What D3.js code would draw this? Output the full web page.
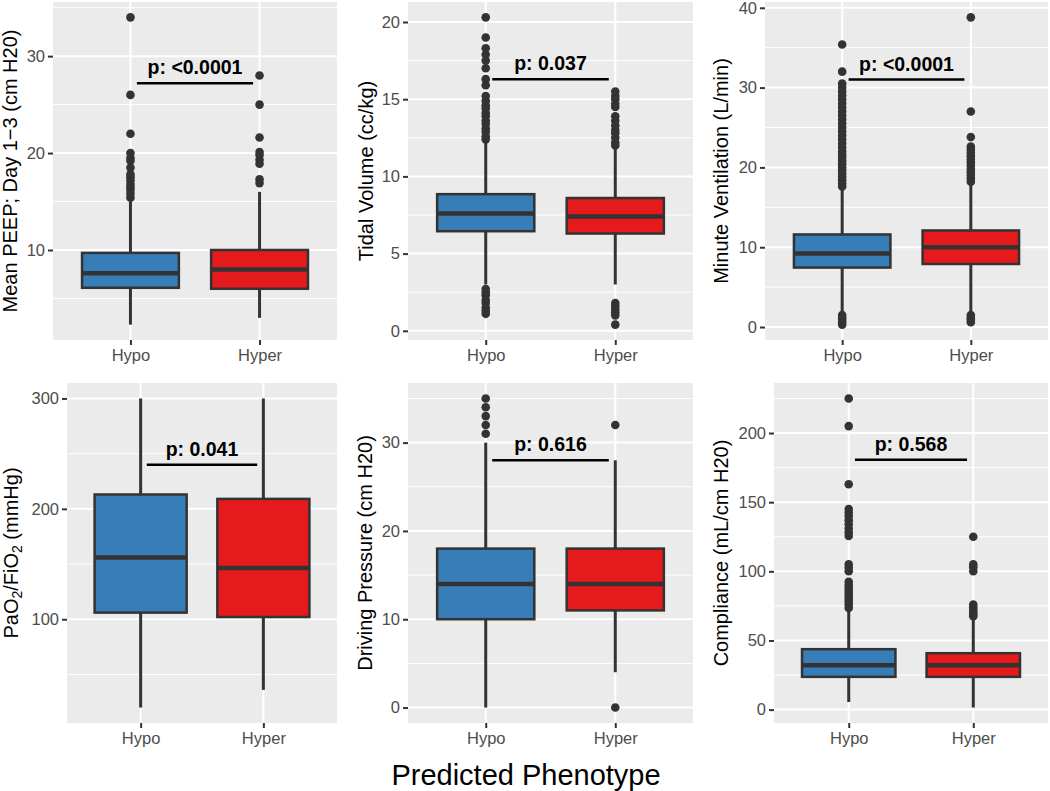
<!DOCTYPE html>
<html>
<head>
<meta charset="utf-8">
<script src="https://cdn.jsdelivr.net/npm/d3@7"></script>
<style>
  body { margin: 0; background: #fff; }
  svg { display: block; font-family: "Liberation Sans", Arial, sans-serif; }
</style>
</head>
<body>
<div id="chart"></div>
<script>
// Groups on the x axis
var groups = ["Hypo", "Hyper"];

// Panel titles (y axis)
var yTitles = [
  "Mean PEEP; Day 1\u22123 (cm H20)",
  "Tidal Volume (cc/kg)",
  "Minute Ventilation (L/min)",
  "PaO2/FiO2 (mmHg)",
  "Driving Pressure (cm H20)",
  "Compliance (mL/cm H20)"
];

// Tick values per panel
var yTicks = [
  [10, 20, 30],
  [0, 5, 10, 15, 20],
  [0, 10, 20, 30, 40],
  [100, 200, 300],
  [0, 10, 20, 30],
  [0, 50, 100, 150, 200]
];

// Box stats: [lower whisker, Q1, median, Q3, upper whisker]
var hypoStats = [
  [2.3, 6.1, 7.6, 9.7, 15.0],
  [3.0, 6.45, 7.6, 8.85, 12.3],
  [1.8, 7.45, 9.2, 11.6, 17.4],
  [20, 106, 156, 213, 300],
  [0, 10, 14, 18, 30],
  [5.5, 23.7, 32, 43.7, 72]
];
var hyperStats = [
  [3.0, 6.0, 8.0, 10.0, 16.0],
  [3.0, 6.3, 7.4, 8.6, 11.9],
  [1.9, 7.9, 10.0, 12.1, 18.0],
  [36, 102, 146.5, 209, 300],
  [4, 11, 14, 18, 28],
  [1.5, 23.7, 32, 40.8, 66]
];

// Outliers
var hypoOutliers = [
  [15.4, 15.8, 16.2, 16.5, 16.8, 17.2, 17.5, 17.8, 18.5, 19.2, 19.5, 20, 22, 26, 34],
  [1.1, 1.3, 1.5, 1.8, 2.0, 2.3, 2.5, 2.7, 12.4, 12.6, 12.9, 13.1, 13.4, 13.6, 13.9, 14.1,
   14.4, 14.6, 14.9, 15.2, 15.9, 16.3, 17.0, 17.5, 17.9, 18.3, 19.0, 20.3],
  [0.3, 0.6, 0.9, 1.2, 1.5, 17.6, 18.0, 18.4, 18.8, 19.2, 19.6, 20.0, 20.4, 20.8, 21.2, 21.6,
   22.0, 22.5, 23.0, 23.5, 24.0, 24.5, 25.0, 25.5, 26.0, 26.5, 27.0, 27.5, 28.0, 28.5, 29.0,
   29.5, 30.0, 30.5, 32.0, 35.4],
  [],
  [31, 32, 33, 34, 35],
  [73.5, 76, 78, 80, 82, 84, 86, 88, 90, 92.5, 100, 102.5, 105, 125.5, 128, 131, 134, 137,
   140, 142.5, 145, 163, 205, 225]
];
var hyperOutliers = [
  [16.9, 17.3, 18.9, 19.3, 19.8, 20.1, 21.6, 25, 28],
  [0.4, 1.0, 1.2, 1.4, 1.6, 1.8, 12.0, 12.2, 12.5, 12.8, 13.0, 13.3, 13.6, 13.9, 14.5, 14.7,
   15.0, 15.2, 15.5],
  [0.6, 0.9, 1.2, 1.5, 18.2, 18.6, 19.0, 19.4, 19.8, 20.2, 20.6, 21.0, 21.4, 21.8, 22.2, 22.6,
   23.8, 27.0, 38.8],
  [],
  [0, 32],
  [67.5, 69, 70.5, 72, 74, 76, 100, 103, 105, 125]
];

// Significance labels and bar heights
var pLabels = ["p: <0.0001", "p: 0.037", "p: <0.0001", "p: 0.041", "p: 0.616", "p: 0.568"];
var pHeights = [27.2, 16.3, 31.0, 240, 28.0, 180.6];

var colors = ["#377EB8", "#E41A1C"];

// Layout
var W = 1050, H = 791;
var panelLeft = [53, 408, 765, 67, 408, 774];
var panelRight = [337, 693, 1048, 337, 693, 1048];
var panelTop = [2, 2, 2, 383, 383, 383];
var panelBottom = [340, 340, 340, 723, 723, 723];
var titleX = [17, 373, 728, 18, 372, 728];

var svg = d3.select("#chart").append("svg")
  .attr("width", W)
  .attr("height", H);

for (var i = 0; i < 6; i++) {
  drawPanel(i);
}

function drawPanel(i) {
  var x0 = panelLeft[i], x1 = panelRight[i], y0 = panelTop[i], y1 = panelBottom[i];
  var g = svg.append("g");

  // y domain like ggplot: data range plus 5%
  var vals = hypoStats[i].concat(hyperStats[i], hypoOutliers[i], hyperOutliers[i]);
  var lo = d3.min(vals), hi = d3.max(vals), pad = (hi - lo) * 0.05;
  var y = d3.scaleLinear().domain([lo - pad, hi + pad]).range([y1, y0]);
  var x = d3.scalePoint().domain(groups).range([x0, x1]).padding(0.6);
  var step = x.step();
  var bw = step * 0.75;

  // panel background
  g.append("rect")
    .attr("x", x0).attr("y", y0)
    .attr("width", x1 - x0).attr("height", y1 - y0)
    .attr("fill", "#EBEBEB");

  // minor grid
  var t = yTicks[i], d = t[1] - t[0];
  var minors = [];
  for (var v = t[0] - d / 2; v <= hi + pad; v += d) {
    if (v >= lo - pad) minors.push(v);
  }
  g.selectAll(".minor").data(minors).join("line")
    .attr("x1", x0).attr("x2", x1)
    .attr("y1", function(v) { return y(v); })
    .attr("y2", function(v) { return y(v); })
    .attr("stroke", "#fff").attr("stroke-width", 1);

  // major grid
  g.selectAll(".major").data(t).join("line")
    .attr("x1", x0).attr("x2", x1)
    .attr("y1", function(v) { return y(v); })
    .attr("y2", function(v) { return y(v); })
    .attr("stroke", "#fff").attr("stroke-width", 2);
  g.selectAll(".vmajor").data(groups).join("line")
    .attr("x1", function(c) { return x(c); })
    .attr("x2", function(c) { return x(c); })
    .attr("y1", y0).attr("y2", y1)
    .attr("stroke", "#fff").attr("stroke-width", 2);

  // axes
  var ay = g.append("g")
    .attr("transform", "translate(" + x0 + ",0)")
    .call(d3.axisLeft(y).tickValues(t).tickSize(5).tickPadding(3));
  var ax = g.append("g")
    .attr("transform", "translate(0," + y1 + ")")
    .call(d3.axisBottom(x).tickSize(5).tickPadding(4));
  [ay, ax].forEach(function(a) {
    a.select(".domain").remove();
    a.selectAll(".tick line").attr("stroke", "#333").attr("stroke-width", 2);
    a.selectAll(".tick text")
      .attr("fill", "#4D4D4D")
      .style("font-size", "16.5px")
      .style("font-family", "'Liberation Sans', Arial, sans-serif");
  });
  ax.selectAll(".tick text").attr("dy", null).attr("y", 21);

  // boxes
  var stats = [hypoStats[i], hyperStats[i]];
  var outs = [hypoOutliers[i], hyperOutliers[i]];
  groups.forEach(function(c, k) {
    var s = stats[k], cx = x(c);
    var bg = g.append("g");
    bg.append("line")
      .attr("x1", cx).attr("x2", cx)
      .attr("y1", y(s[0])).attr("y2", y(s[1]))
      .attr("stroke", "#333").attr("stroke-width", 3);
    bg.append("line")
      .attr("x1", cx).attr("x2", cx)
      .attr("y1", y(s[3])).attr("y2", y(s[4]))
      .attr("stroke", "#333").attr("stroke-width", 3);
    bg.append("rect")
      .attr("x", cx - bw / 2).attr("y", y(s[3]))
      .attr("width", bw).attr("height", y(s[1]) - y(s[3]))
      .attr("fill", colors[k])
      .attr("stroke", "#333").attr("stroke-width", 2.5);
    bg.append("line")
      .attr("x1", cx - bw / 2).attr("x2", cx + bw / 2)
      .attr("y1", y(s[2])).attr("y2", y(s[2]))
      .attr("stroke", "#333").attr("stroke-width", 4.5);
    bg.selectAll("circle").data(outs[k]).join("circle")
      .attr("cx", cx)
      .attr("cy", function(v) { return y(v); })
      .attr("r", 4.3)
      .attr("fill", "#333");
  });

  // significance bar
  var inset = step * 0.05;
  var py = y(pHeights[i]);
  g.append("line")
    .attr("x1", x(groups[0]) + inset).attr("x2", x(groups[1]) - inset)
    .attr("y1", py).attr("y2", py)
    .attr("stroke", "#000").attr("stroke-width", 2.5);
  g.append("text")
    .attr("x", (x(groups[0]) + x(groups[1])) / 2)
    .attr("y", py - 9)
    .attr("text-anchor", "middle")
    .style("font-size", "19.5px")
    .style("font-weight", "bold")
    .attr("fill", "#000")
    .text(pLabels[i]);

  // y title
  var yt = g.append("text")
    .attr("transform", "translate(" + titleX[i] + "," + ((y0 + y1) / 2) + ") rotate(-90)")
    .attr("text-anchor", "middle")
    .style("font-size", "20px")
    .attr("fill", "#000");
  if (i === 3) {
    yt.append("tspan").text("PaO");
    yt.append("tspan").attr("dy", 4).style("font-size", "14px").text("2");
    yt.append("tspan").attr("dy", -4).text("/FiO");
    yt.append("tspan").attr("dy", 4).style("font-size", "14px").text("2");
    yt.append("tspan").attr("dy", -4).text(" (mmHg)");
  } else {
    yt.text(yTitles[i]);
  }
}

// shared x title
svg.append("text")
  .attr("x", 526)
  .attr("y", 785)
  .attr("text-anchor", "middle")
  .style("font-size", "29px")
  .attr("fill", "#000")
  .text("Predicted Phenotype");
</script>
</body>
</html>
